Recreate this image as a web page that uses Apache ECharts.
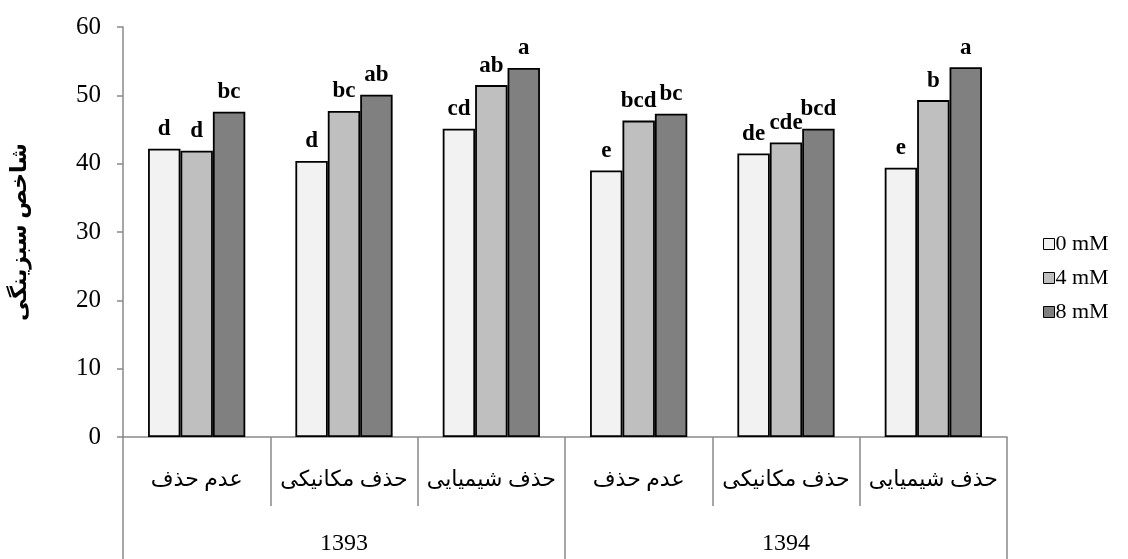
<!DOCTYPE html>
<html>
<head>
<meta charset="utf-8">
<script src="https://cdn.jsdelivr.net/npm/echarts@6/dist/echarts.min.js"></script>
<style>
  html, body { margin: 0; padding: 0; background: #ffffff; }
  #chart { width: 1128px; height: 559px; }
</style>
</head>
<body>
<div id="chart"></div>
<script>
// Treatments (left to right) and the two years they are grouped under
var categories = ['عدم حذف', 'حذف مکانیکی', 'حذف شیمیایی', 'عدم حذف', 'حذف مکانیکی', 'حذف شیمیایی'];
var years = ['1393', '1394'];
var seriesNames = ['0 mM', '4 mM', '8 mM'];

// Greenness index per treatment
var values0 = [42.2, 40.4, 45.1, 39.0, 41.5, 39.4];
var values4 = [41.9, 47.7, 51.5, 46.3, 43.1, 49.3];
var values8 = [47.6, 50.1, 54.0, 47.3, 45.1, 54.1];

// Mean-comparison letters shown above the bars
var letters0 = ['d', 'd', 'cd', 'e', 'de', 'e'];
var letters4 = ['d', 'bc', 'ab', 'bcd', 'cde', 'b'];
var letters8 = ['bc', 'ab', 'a', 'bc', 'bcd', 'a'];

var yTicks = [0, 10, 20, 30, 40, 50, 60];

var serif = '"Liberation Serif", "Times New Roman", "DejaVu Serif", "DejaVu Sans", serif';
var axisGray = '#898989';
var fills = ['#f2f2f2', '#bfbfbf', '#808080'];
var allValues = [values0, values4, values8];
var allLetters = [letters0, letters4, letters8];

var chart = echarts.init(document.getElementById('chart'), null, { renderer: 'canvas' });

var series = seriesNames.map(function (name, s) {
  return {
    name: name,
    type: 'bar',
    xAxisIndex: 0,
    barGap: '0%',
    barCategoryGap: '34%',
    data: allValues[s],
    itemStyle: { color: fills[s], borderColor: '#000000', borderWidth: 1.8 },
    label: {
      show: true,
      position: 'top',
      distance: 8,
      fontFamily: serif,
      fontWeight: 'bold',
      fontSize: 23,
      color: '#000000',
      formatter: function (p) { return allLetters[s][p.dataIndex]; }
    }
  };
});

chart.setOption({
  animation: false,
  backgroundColor: '#ffffff',
  grid: { left: 123, right: 121, top: 27, bottom: 122, containLabel: false },
  legend: {
    orient: 'vertical',
    left: 1043,
    top: 233,
    padding: 0,
    itemWidth: 11,
    itemHeight: 11,
    itemGap: 12,
    icon: 'rect',
    data: seriesNames,
    textStyle: { fontFamily: serif, fontSize: 22, color: '#000000', padding: [0, 0, 0, -4] },
    itemStyle: { borderColor: '#000000', borderWidth: 1 }
  },
  xAxis: [
    {
      type: 'category',
      data: categories,
      position: 'bottom',
      axisLine: { show: true, lineStyle: { color: axisGray, width: 1.5 } },
      axisTick: { show: true, interval: 0, alignWithLabel: false, length: 69, lineStyle: { color: axisGray, width: 1.5 } },
      axisLabel: { interval: 0, margin: 32, fontFamily: serif, fontSize: 22, color: '#000000' },
      splitLine: { show: false }
    },
    {
      type: 'category',
      data: years,
      position: 'bottom',
      axisLine: { show: false },
      axisTick: { show: true, interval: 0, length: 125, lineStyle: { color: axisGray, width: 1.5 } },
      axisLabel: { interval: 0, margin: 95, fontFamily: serif, fontSize: 24, color: '#000000' },
      splitLine: { show: false }
    }
  ],
  yAxis: {
    type: 'value',
    min: yTicks[0],
    max: yTicks[yTicks.length - 1],
    interval: 10,
    name: 'شاخص سبزینگی',
    nameLocation: 'middle',
    nameRotate: 90,
    nameGap: 92,
    nameTextStyle: { fontFamily: serif, fontWeight: 'bold', fontSize: 22, color: '#000000' },
    axisLine: { show: true, lineStyle: { color: axisGray, width: 1.5 } },
    axisTick: { show: true, length: 6, lineStyle: { color: axisGray, width: 1.5 } },
    axisLabel: { margin: 22, fontFamily: serif, fontSize: 25, color: '#000000' },
    splitLine: { show: false }
  },
  series: series
});
</script>
</body>
</html>
